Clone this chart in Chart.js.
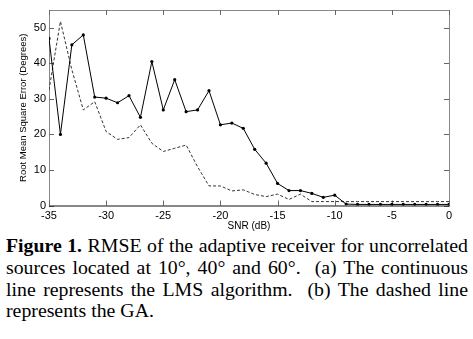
<!DOCTYPE html>
<html>
<head>
<meta charset="utf-8">
<script src="https://cdn.jsdelivr.net/npm/chart.js@4.4.1/dist/chart.umd.min.js"></script>
<style>
  html, body { margin: 0; padding: 0; background: #fff; }
  #wrap { width: 473px; height: 232px; position: relative; }
  #caption {
    font-family: "Liberation Serif", "Times New Roman", serif;
    font-size: 18px;
    line-height: 21.8px;
    color: #000;
    width: 420px;
    margin: 4px 0 0 6px;
    transform: scaleX(1.1);
    transform-origin: 0 0;
  }
  #caption .ln { text-align: justify; text-align-last: justify; white-space: nowrap; }
  #caption .ln.last { text-align-last: left; }
</style>
</head>
<body>
<div id="wrap"><canvas id="rmseChart" width="473" height="232"></canvas></div>
<div id="caption">
  <div class="ln"><b>Figure 1.</b> RMSE of the adaptive receiver for uncorrelated</div>
  <div class="ln">sources located at 10°, 40° and 60°.&nbsp; (a) The continuous</div>
  <div class="ln">line represents the LMS algorithm.&nbsp; (b) The dashed line</div>
  <div class="ln last">represents the GA.</div>
</div>
<script>
// SNR values (dB) on the x axis
const snr = [-35, -34, -33, -32, -31, -30, -29, -28, -27, -26, -25, -24, -23, -22, -21, -20, -19, -18,
             -17, -16, -15, -14, -13, -12, -11, -10, -9, -8, -7, -6, -5, -4, -3, -2, -1, 0];

// LMS - continuous line with dots
const lmsRmse = [47, 20, 45.2, 48, 30.5, 30.2, 28.9, 30.9, 24.8, 40.5, 26.9, 35.4, 26.4, 26.9, 32.3, 22.7, 23.2, 21.7,
                 15.8, 11.9, 6.2, 4.2, 4.2, 3.4, 2.3, 2.9, 0.4, 0.3, 0.3, 0.3, 0.3, 0.3, 0.3, 0.3, 0.3, 0.3];

// GA - dashed line
const gaRmse = [32.5, 51.8, 38.2, 26.9, 29.2, 20.8, 18.6, 19.1, 22.7, 17.5, 15.2, 16.1, 17.0, 10.9, 5.5, 5.5, 4.1, 4.4,
                3.1, 2.5, 3.2, 1.7, 3.2, 1.1, 1.1, 1.1, 1.1, 1.1, 1.1, 1.1, 1.1, 1.1, 1.1, 1.1, 1.1, 1.1];

const xTicks = [-35, -30, -25, -20, -15, -10, -5, 0];
const yTicks = [0, 10, 20, 30, 40, 50];

function toPoints(values) {
    return snr.map((x, i) => ({ x: x, y: values[i] }));
}

// box around the plot with matlab style inward ticks
const frameBox = {
    id: 'frameBox',
    beforeDatasetsDraw(chart) {
        const ctx = chart.ctx;
        const a = chart.chartArea;
        const xs = chart.scales.x, ys = chart.scales.y;
        ctx.save();
        ctx.lineWidth = 1;
        ctx.strokeStyle = '#888';
        ctx.beginPath();
        ctx.moveTo(a.left + 0.5, a.bottom);
        ctx.lineTo(a.left + 0.5, a.top + 0.5);
        ctx.lineTo(a.right + 0.5, a.top + 0.5);
        ctx.lineTo(a.right + 0.5, a.bottom);
        ctx.stroke();
        ctx.strokeStyle = '#666';
        ctx.beginPath();
        xTicks.forEach(v => {
            const px = Math.round(xs.getPixelForValue(v)) + 0.5;
            ctx.moveTo(px, a.bottom); ctx.lineTo(px, a.bottom - 5);
            ctx.moveTo(px, a.top); ctx.lineTo(px, a.top + 5);
        });
        yTicks.forEach(v => {
            const py = Math.round(ys.getPixelForValue(v)) + 0.5;
            ctx.moveTo(a.left, py); ctx.lineTo(a.left + 5, py);
            ctx.moveTo(a.right, py); ctx.lineTo(a.right - 5, py);
        });
        ctx.stroke();
        ctx.strokeStyle = '#111';
        ctx.beginPath();
        ctx.moveTo(a.left, a.bottom + 0.5);
        ctx.lineTo(a.right + 1, a.bottom + 0.5);
        ctx.stroke();
        ctx.restore();
    }
};

document.addEventListener('DOMContentLoaded', function() {
    const ctx = document.getElementById('rmseChart').getContext('2d');
    new Chart(ctx, {
        type: 'line',
        data: {
            datasets: [{
                label: 'LMS',
                data: toPoints(lmsRmse),
                borderColor: '#000',
                backgroundColor: '#000',
                borderWidth: 1,
                pointRadius: 1.6,
                pointBorderWidth: 0,
                tension: 0
            }, {
                label: 'GA',
                data: toPoints(gaRmse),
                borderColor: '#333',
                borderWidth: 1,
                borderDash: [3, 2],
                pointRadius: 0,
                tension: 0
            }]
        },
        options: {
            responsive: false,
            animation: false,
            events: [],
            layout: { padding: { top: 10, right: 24, left: 0, bottom: 0 } },
            plugins: { legend: { display: false }, tooltip: { enabled: false } },
            scales: {
                x: {
                    type: 'linear',
                    min: -35, max: 0,
                    afterBuildTicks: s => { s.ticks = xTicks.map(v => ({ value: v })); },
                    afterFit: s => { s.height = 26.5; },
                    grid: { display: false, tickLength: 0 },
                    border: { display: false },
                    ticks: { color: '#000', padding: 4, font: { family: 'Liberation Sans', size: 11 } },
                    title: {
                        display: true, text: 'SNR (dB)', color: '#000',
                        padding: { top: 0, bottom: 0 },
                        font: { family: 'Liberation Sans', size: 10 }
                    }
                },
                y: {
                    type: 'linear',
                    min: 0, max: 55,
                    afterBuildTicks: s => { s.ticks = yTicks.map(v => ({ value: v })); },
                    afterFit: s => { s.width = 49; },
                    grid: { display: false, tickLength: 0 },
                    border: { display: false },
                    ticks: { color: '#000', padding: 3, font: { family: 'Liberation Sans', size: 11 } },
                    title: {
                        display: true, text: 'Root Mean Square Error (Degrees)', color: '#000',
                        padding: { top: 18, bottom: 0 },
                        font: { family: 'Liberation Sans', size: 9.5 }
                    }
                }
            }
        },
        plugins: [frameBox]
    });
});
</script>
</body>
</html>
